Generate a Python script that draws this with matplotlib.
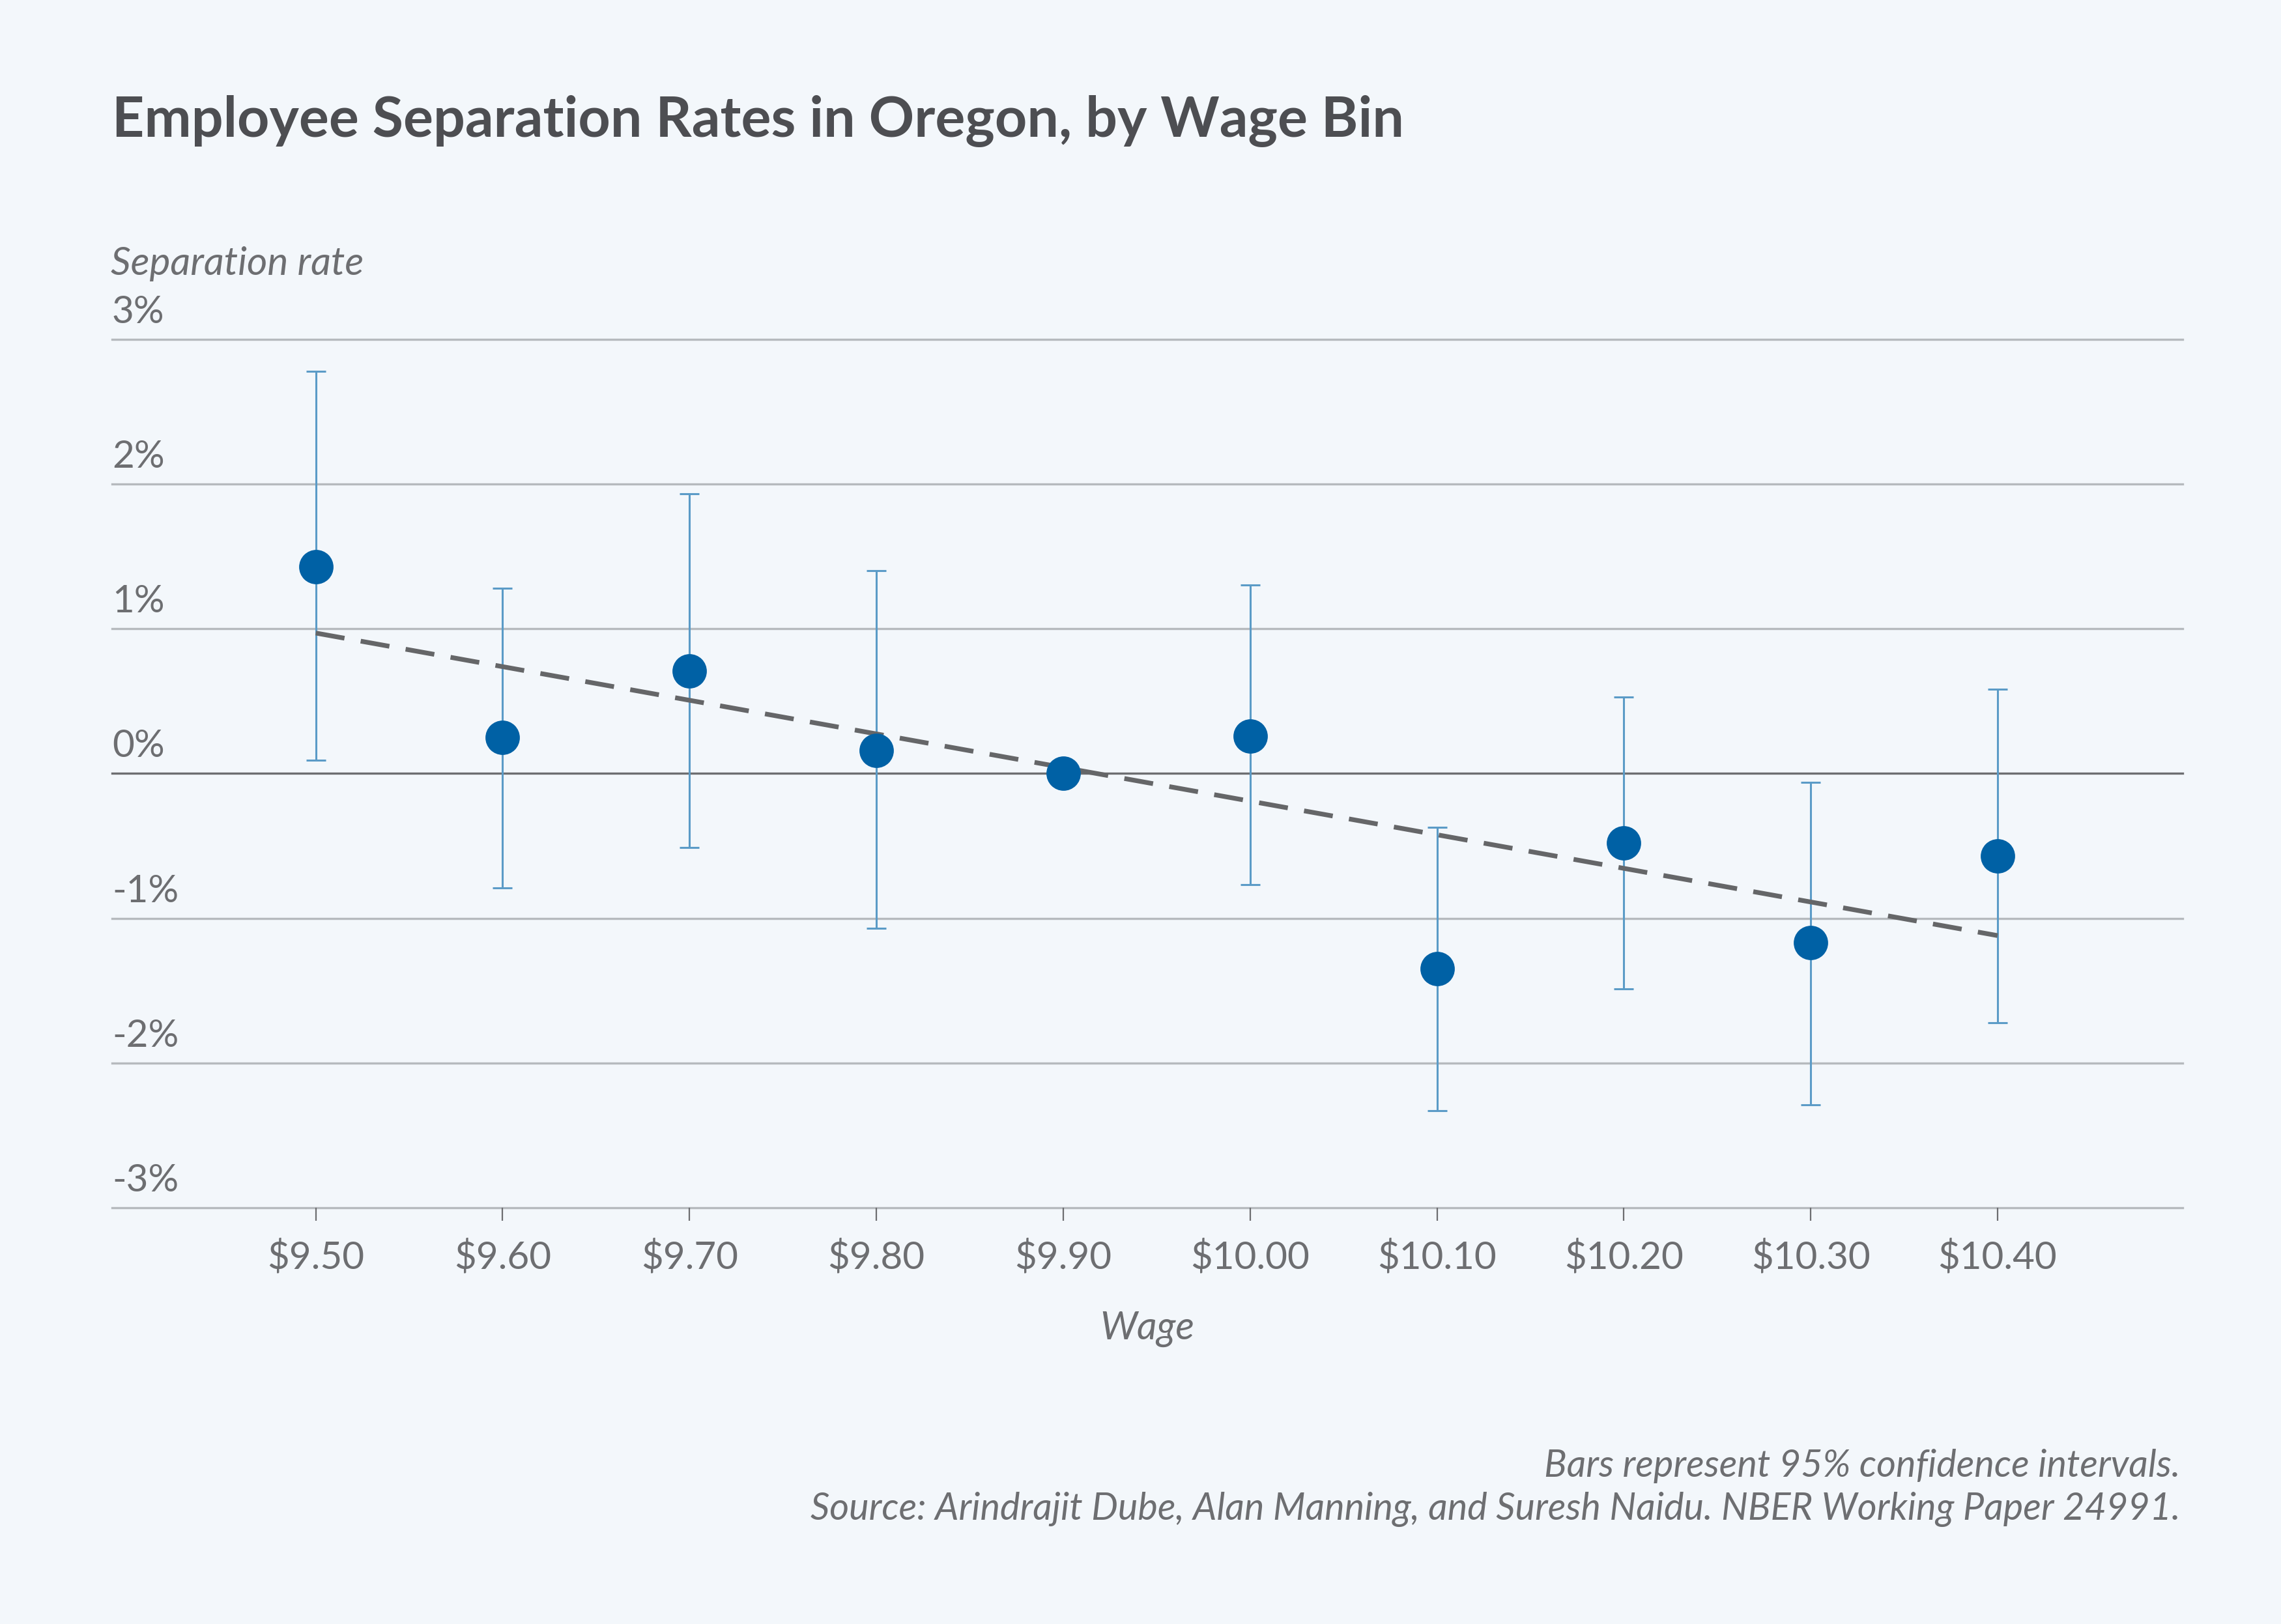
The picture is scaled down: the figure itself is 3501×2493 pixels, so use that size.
import matplotlib
matplotlib.use("Agg")
import matplotlib.pyplot as plt

plt.rcParams['font.family'] = ['Lato', 'DejaVu Sans']

# wage bins and estimated change in separation rate (%), with 95% CI
wages = [9.50, 9.60, 9.70, 9.80, 9.90, 10.00, 10.10, 10.20, 10.30, 10.40]
rates = [1.43, 0.25, 0.71, 0.16, 0.00, 0.26, -1.35, -0.48, -1.17, -0.57]
ci_low = [0.09, -0.79, -0.51, -1.07, 0.00, -0.77, -2.33, -1.49, -2.29, -1.72]
ci_high = [2.78, 1.28, 1.93, 1.40, 0.00, 1.30, -0.37, 0.53, -0.06, 0.58]

# fitted trend line endpoints
fit_x = [9.50, 10.40]
fit_y = [0.97, -1.12]

xtick_labels = ["\\$9.50", "\\$9.60", "\\$9.70", "\\$9.80", "\\$9.90",
                "\\$10.00", "\\$10.10", "\\$10.20", "\\$10.30", "\\$10.40"]
ytick_vals = [3, 2, 1, 0, -1, -2, -3]
ytick_labels = ["3%", "2%", "1%", "0%", "-1%", "-2%", "-3%"]

BG = "#f3f7fb"
TXT = "#6d6e71"
TITLE = "#4d4e52"
DOT = "#0061a5"
BAR = "#5b9bc7"
GRID = "#b6babe"

fig = plt.figure(figsize=(35.01, 24.93), dpi=100, facecolor=BG)
ax = fig.add_axes([0.04913, 0.25632, 0.90774, 0.53482])
ax.set_facecolor(BG)
for s in ax.spines.values():
    s.set_visible(False)

ax.set_xlim(9.391, 10.499)
ax.set_ylim(-3, 3)

# gridlines
for v in ytick_vals:
    if v == 0:
        ax.axhline(v, color=TXT, lw=2.4, zorder=1, clip_on=False)
    else:
        ax.axhline(v, color=GRID, lw=2.4, zorder=1, clip_on=False)

# y labels sit above their gridlines
for v, lab in zip(ytick_vals, ytick_labels):
    ax.annotate(lab, xy=(0, v), xycoords=('axes fraction', 'data'),
                xytext=(0, 25), textcoords='offset pixels',
                ha='left', va='baseline', fontsize=42, color=TXT)
ax.set_yticks([])

# error bars (skip the reference bin with no interval)
for x, r, lo, hi in zip(wages, rates, ci_low, ci_high):
    if hi == lo:
        continue
    ax.errorbar([x], [r], yerr=[[r - lo], [hi - r]], fmt='none',
                ecolor=BAR, elinewidth=2.2, capsize=11, capthick=2.2, zorder=2)

# fitted dashed line
ax.plot(fit_x, fit_y, color="#656668", lw=5.2, dashes=(6.2, 3.5), zorder=3)

# point estimates
ax.plot(wages, rates, 'o', color=DOT, markersize=38, markeredgewidth=0, zorder=4)

ax.set_xticks(wages)
ax.set_xticklabels(xtick_labels)
ax.tick_params(axis='x', length=14.4, width=1.6, color=TXT, labelcolor=TXT,
               labelsize=42, pad=21)
ax.set_xlabel("Wage", fontsize=43, color=TXT, style='italic', labelpad=40)

fig.text(0.0491, 1 - 210 / 2493, "Employee Separation Rates in Oregon, by Wage Bin",
         fontsize=62, fontweight='bold', color=TITLE, ha='left', va='baseline')
fig.text(0.0486, 1 - 422 / 2493, "Separation rate", fontsize=43.5, style='italic',
         color=TXT, ha='left', va='baseline')
fig.text(3346 / 3501, 1 - 2267 / 2493, "Bars represent 95% confidence intervals.",
         fontsize=41.5, style='italic', color=TXT, ha='right', va='baseline')
fig.text(3346 / 3501, 1 - 2333 / 2493,
         "Source: Arindrajit Dube, Alan Manning, and Suresh Naidu. NBER Working Paper 24991.",
         fontsize=41.5, style='italic', color=TXT, ha='right', va='baseline')

fig.savefig("out.png", dpi=100, facecolor=BG)
